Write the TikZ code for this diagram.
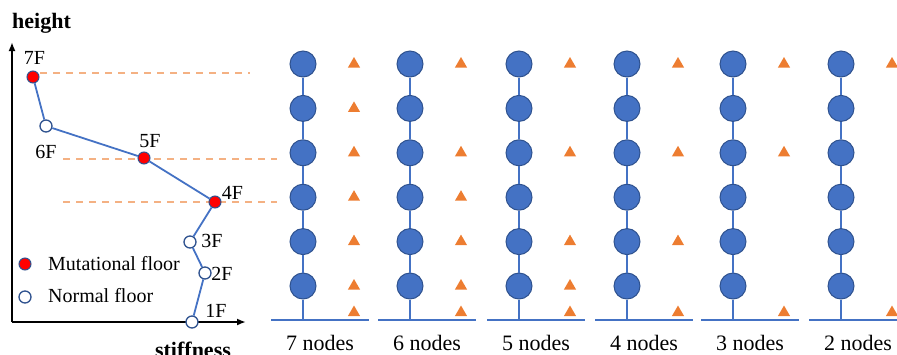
\documentclass[tikz,border=0pt]{standalone}
\usepackage{fontspec}
\setmainfont{Liberation Serif}
\usetikzlibrary{arrows.meta,shapes.geometric}
\definecolor{nodeblue}{HTML}{4472C4}
\definecolor{edgeblue}{HTML}{2F528F}
\definecolor{triorange}{HTML}{ED7D31}
\definecolor{dashorange}{HTML}{F4B183}
\begin{document}
\begin{tikzpicture}[x=1pt,y=-1pt,
  flabel/.style={font=\fontsize{20}{24}\selectfont, inner sep=0},
  clabel/.style={font=\fontsize{22}{26}\selectfont, inner sep=0},
  boldlabel/.style={font=\fontsize{22}{26}\selectfont\bfseries, inner sep=0},
  bignode/.style={circle, fill=nodeblue, draw=edgeblue, line width=1pt, minimum size=26pt, inner sep=0},
  mutnode/.style={circle, fill=red, draw=edgeblue, line width=1pt, minimum size=12pt, inner sep=0},
  normnode/.style={circle, fill=white, draw=edgeblue, line width=1.3pt, minimum size=12pt, inner sep=0},
  trimark/.style={regular polygon, regular polygon sides=3, fill=triorange, minimum size=14pt, inner sep=0},
  axisline/.style={line width=1.8pt, -{Latex[length=9pt,width=7pt]}},
  chartline/.style={nodeblue, line width=1.8pt},
  stemline/.style={nodeblue, line width=2pt},
  groundline/.style={nodeblue, line width=2.5pt},
  dashline/.style={dashorange, line width=1.3pt, dash pattern=on 7pt off 6pt}
]
\useasboundingbox (0,0) rectangle (897,354);

% axes
\coordinate (origin) at (12,322);
\coordinate (ytip) at (12,42);
\coordinate (xtip) at (246,322);
\draw[axisline] (origin) -- (ytip);
\draw[axisline] (origin) -- (xtip);
\node[boldlabel, anchor=base west] (hlab) at (12,28) {height};
\node[boldlabel, anchor=base] (slab) at (193,357) {stiffness};

% dashed lines
\coordinate (d7a) at (40,73);  \coordinate (d7b) at (250,73);
\coordinate (d5a) at (63,159); \coordinate (d5b) at (277,159);
\coordinate (d4a) at (63,202); \coordinate (d4b) at (277,202);
\draw[dashline] (d7a) -- (d7b);
\draw[dashline] (d5a) -- (d5b);
\draw[dashline] (d4a) -- (d4b);

% floors
\node[mutnode] (f7) at (33,77) {};
\node[normnode] (f6) at (46,126) {};
\node[mutnode] (f5) at (144,158) {};
\node[mutnode] (f4) at (215,202) {};
\node[normnode] (f3) at (190,242) {};
\node[normnode] (f2) at (205,273) {};
\node[normnode] (f1) at (192,322) {};
\draw[chartline] (f7) -- (f6) -- (f5) -- (f4) -- (f3) -- (f2) -- (f1);

\node[flabel, anchor=base] (l7) at (34.5,64) {7F};
\node[flabel, anchor=base] (l6) at (46,158) {6F};
\node[flabel, anchor=base] (l5) at (150,147) {5F};
\node[flabel, anchor=base] (l4) at (232.5,199) {4F};
\node[flabel, anchor=base] (l3) at (212,247) {3F};
\node[flabel, anchor=base] (l2) at (222,280) {2F};
\node[flabel, anchor=base] (l1) at (216,317) {1F};

% legend
\node[mutnode] (legm) at (25,264) {};
\node[flabel, anchor=base west] (legmt) at (48,270) {Mutational floor};
\node[normnode] (legn) at (25,297) {};
\node[flabel, anchor=base west] (legnt) at (48,302) {Normal floor};

% columns
\foreach \cx/\n/\rows [count=\c] in {303/7/{1,2,3,4,5,6,7}, 410/6/{1,3,4,5,6,7}, 519/5/{1,3,5,6,7}, 627/4/{1,3,5,7}, 733/3/{1,3,7}, 841/2/{1,7}} {
  \foreach \r in {1,...,6} {
    \pgfmathsetmacro\ry{64+(\r-1)*44.4}
    \node[bignode] (c\c-\r) at (\cx,\ry) {};
  }
  \coordinate (g\c) at (\cx,320);
  \coordinate (gl\c) at (\cx-32,320);
  \coordinate (gr\c) at (\cx+66,320);
  \draw[groundline] (gl\c) -- (gr\c);
  \draw[stemline] (c\c-1) -- (c\c-2);
  \draw[stemline] (c\c-2) -- (c\c-3);
  \draw[stemline] (c\c-3) -- (c\c-4);
  \draw[stemline] (c\c-4) -- (c\c-5);
  \draw[stemline] (c\c-5) -- (c\c-6);
  \draw[stemline] (c\c-6) -- (g\c);
  \foreach \r in \rows {
    \pgfmathsetmacro\ty{\r==7 ? 312.5 : 64+(\r-1)*44.4}
    \node[trimark] (t\c-\r) at (\cx+51,\ty) {};
  }
  \node[clabel, anchor=base] (lab\c) at (\cx+17,350) {\n\ nodes};
}
\end{tikzpicture}
\end{document}
